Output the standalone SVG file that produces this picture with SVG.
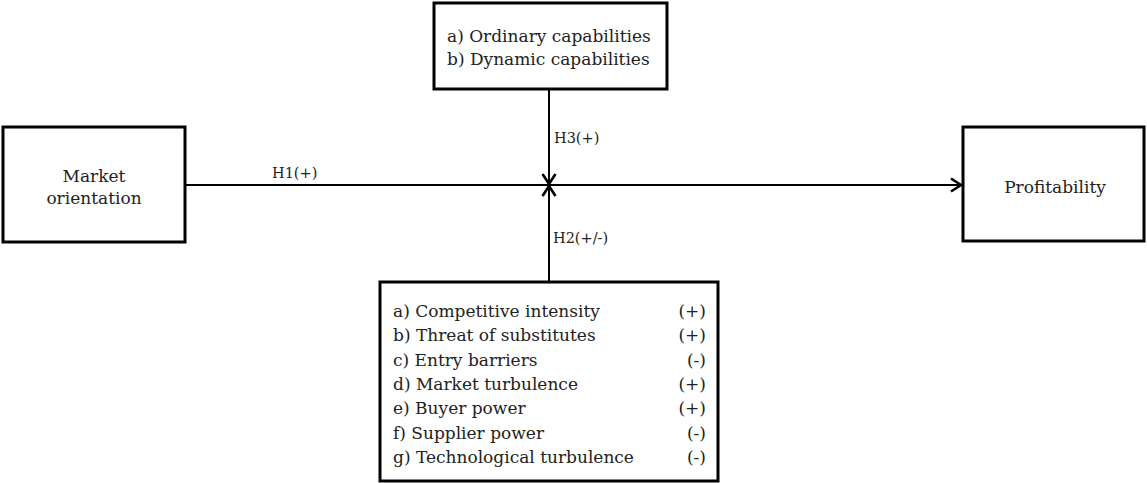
<svg xmlns="http://www.w3.org/2000/svg" width="1147" height="483" viewBox="0 0 1147 483">
  <style>
    .box { fill: #ffffff; stroke: #000000; stroke-width: 3; }
    .lbl { font-family: "DejaVu Serif", "Liberation Serif", serif; font-size: 17px; fill: #222222; }
    .hyp { font-family: "DejaVu Serif", "Liberation Serif", serif; font-size: 14.5px; fill: #222222; }
    .line { fill: none; stroke: #000000; stroke-width: 2; }
  </style>
  <defs>
    <marker id="chev" viewBox="0 0 14 16" refX="12" refY="8" markerWidth="14" markerHeight="16" markerUnits="userSpaceOnUse" orient="auto">
      <path d="M2,1.5 L12,8 L2,14.5" fill="none" stroke="#000000" stroke-width="2.6"/>
    </marker>
  </defs>
  <rect width="1147" height="483" fill="#ffffff"/>

  <g id="connectors">
    <line class="line" x1="185" y1="185" x2="961" y2="185" marker-end="url(#chev)"/>
    <line class="line" x1="549" y1="89" x2="549" y2="184" marker-end="url(#chev)"/>
    <line class="line" x1="549" y1="282" x2="549" y2="186" marker-end="url(#chev)"/>
    <text class="hyp" x="272" y="178">H1(+)</text>
    <text class="hyp" x="554" y="143">H3(+)</text>
    <text class="hyp" x="553" y="243">H2(+/-)</text>
  </g>

  <g id="capabilities">
    <rect class="box" x="434" y="3" width="233" height="86"/>
    <text class="lbl" x="447" y="42">a) Ordinary capabilities</text>
    <text class="lbl" x="447" y="65">b) Dynamic capabilities</text>
  </g>

  <g id="market-orientation">
    <rect class="box" x="3" y="127" width="182" height="115"/>
    <text class="lbl" x="94" y="182" text-anchor="middle">Market</text>
    <text class="lbl" x="94" y="204" text-anchor="middle">orientation</text>
  </g>

  <g id="profitability">
    <rect class="box" x="963" y="127" width="181" height="114"/>
    <text class="lbl" x="1055" y="193" text-anchor="middle">Profitability</text>
  </g>

  <g id="environment">
    <rect class="box" x="380" y="282" width="338" height="199"/>
    <text class="lbl" x="393" y="317">a) Competitive intensity</text>
    <text class="lbl" x="393" y="341">b) Threat of substitutes</text>
    <text class="lbl" x="393" y="366">c) Entry barriers</text>
    <text class="lbl" x="393" y="390">d) Market turbulence</text>
    <text class="lbl" x="393" y="414">e) Buyer power</text>
    <text class="lbl" x="393" y="439">f) Supplier power</text>
    <text class="lbl" x="393" y="463">g) Technological turbulence</text>
    <text class="lbl" x="706" y="317" text-anchor="end">(+)</text>
    <text class="lbl" x="706" y="341" text-anchor="end">(+)</text>
    <text class="lbl" x="706" y="366" text-anchor="end">(-)</text>
    <text class="lbl" x="706" y="390" text-anchor="end">(+)</text>
    <text class="lbl" x="706" y="414" text-anchor="end">(+)</text>
    <text class="lbl" x="706" y="439" text-anchor="end">(-)</text>
    <text class="lbl" x="706" y="463" text-anchor="end">(-)</text>
  </g>
</svg>
